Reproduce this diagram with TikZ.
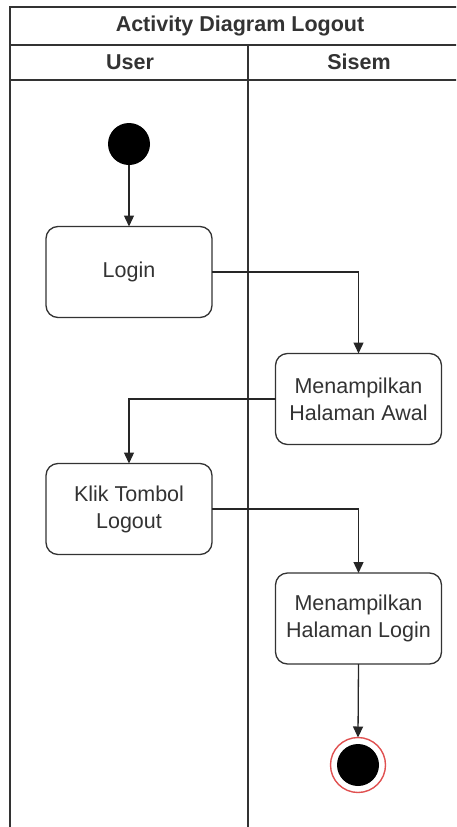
\documentclass[tikz,border=0pt]{standalone}
\usepackage{fontspec}
\setmainfont{Liberation Sans}
\usetikzlibrary{arrows.meta}
\definecolor{ink}{HTML}{333333}
\definecolor{endred}{HTML}{E05050}
\begin{document}
\begin{tikzpicture}[x=1pt,y=-1pt,
  lane/.style={draw=ink, line width=1.5pt},
  actbox/.style={draw=ink, line width=1.3pt, rounded corners=12pt, fill=white,
    minimum width=166pt, minimum height=91pt, align=center, inner sep=0pt,
    outer sep=0pt, font=\fontsize{21.5}{27}\selectfont, text=ink},
  flow/.style={draw=black!85, line width=1.3pt, -{Triangle[length=11pt,width=10pt]}},
  hdr/.style={font=\fontsize{21.5}{25}\selectfont\bfseries, text=ink, inner sep=0pt}]
\useasboundingbox (0,0) rectangle (456,827);
\begin{scope}
\clip (0,0) rectangle (456,827);
% swimlane frame
\draw[lane] (10,827) -- (10,7) -- (470,7);
\draw[lane] (10,45) -- (470,45);
\draw[lane] (10,80) -- (470,80);
\draw[lane] (248,45) -- (248,827);
\end{scope}
\node[hdr] (title) at (240,26) {Activity Diagram Logout};
\node[hdr] (user) at (130,62) {User};
\node[hdr] (sisem) at (359,62) {Sisem};
% activity nodes
\node[circle, fill=black, minimum size=42pt, inner sep=0pt, outer sep=0pt] (start) at (129,144) {};
\node[actbox] (login) at (129,272) {Login};
\node[actbox] (awal) at (358.5,399) {Menampilkan\\Halaman Awal};
\node[actbox] (klik) at (129,509) {Klik Tombol\\Logout};
\node[actbox] (hlogin) at (358.5,618.5) {Menampilkan\\Halaman Login};
\node[circle, draw=endred, line width=1.4pt, fill=white, minimum size=55pt, inner sep=0pt, outer sep=0pt] (end) at (358,765) {};
\node[circle, fill=black, minimum size=42pt, inner sep=0pt] (endcore) at (end.center) {};
% control flow
\draw[flow] (start) -- (login);
\draw[flow] (login.east) -| (awal.north);
\draw[flow] (awal.west) -| (klik.north);
\draw[flow] (klik.east) -| (hlogin.north);
\draw[flow] (hlogin.south) -- (end.north);
\end{tikzpicture}
\end{document}
